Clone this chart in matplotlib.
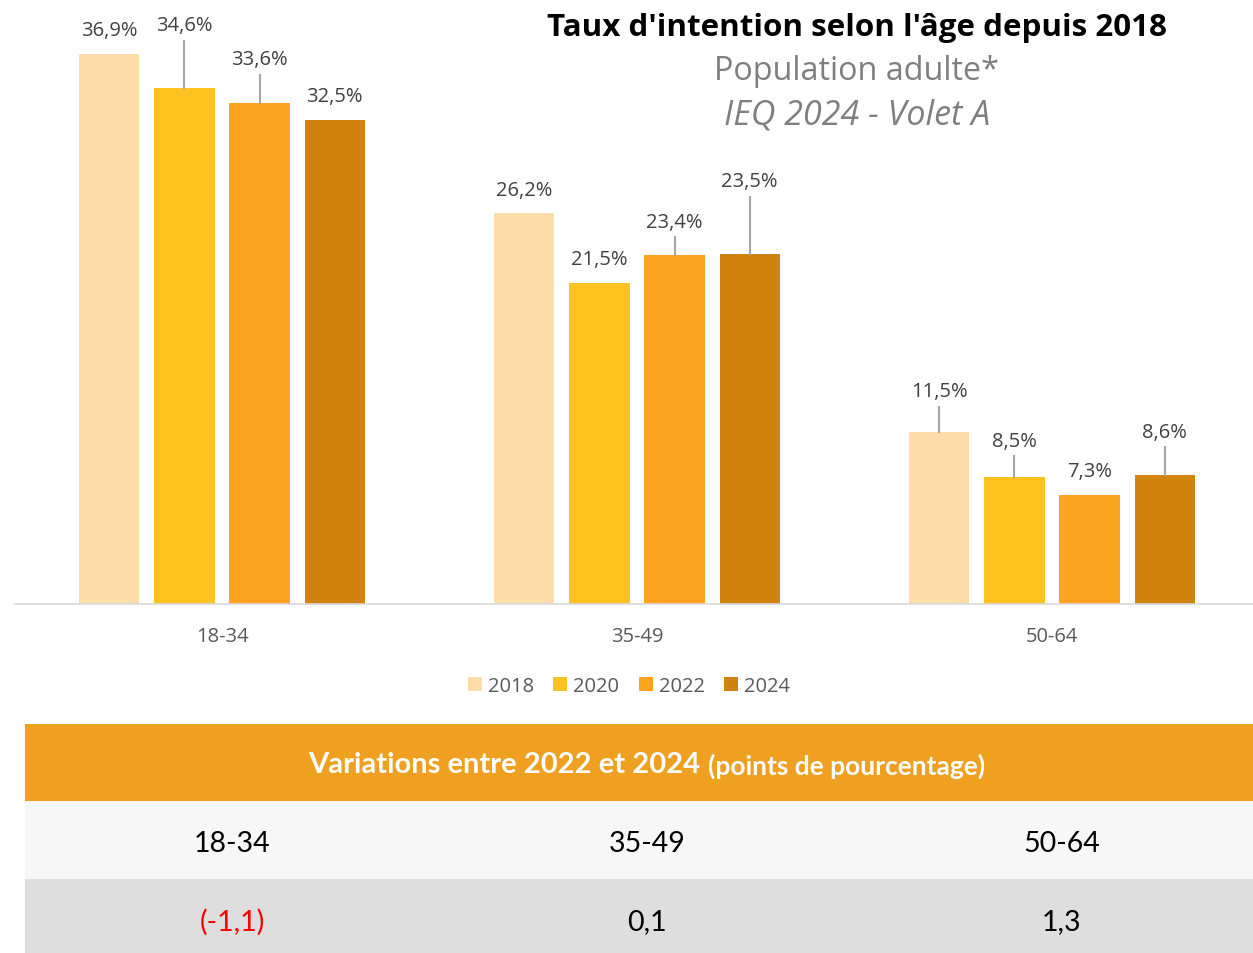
import numpy as np
import matplotlib
matplotlib.use("Agg")
import matplotlib.pyplot as plt
from matplotlib.patches import Rectangle

# Données
groupes = ["18-34", "35-49", "50-64"]
annees = ["2018", "2020", "2022", "2024"]
taux = {
    "2018": [36.9, 26.2, 11.5],
    "2020": [34.6, 21.5, 8.5],
    "2022": [33.6, 23.4, 7.3],
    "2024": [32.5, 23.5, 8.6],
}
# marge d'erreur (partie haute seulement)
erreurs = {
    "2018": [0.0, 0.0, 1.7],
    "2020": [3.2, 0.0, 1.4],
    "2022": [1.9, 1.2, 0.0],
    "2024": [0.0, 3.8, 1.9],
}
couleurs = ["#FDDCAA", "#FFC220", "#FCA321", "#D0840F"]
variations = ["(-1,1)", "0,1", "1,3"]
couleurs_var = ["#FF0000", "#000000", "#000000"]

W, H = 1253, 954
fig = plt.figure(figsize=(W / 100, H / 100), dpi=100)
plt.rcParams["font.family"] = ["Open Sans", "DejaVu Sans"]

def px(x0, y0, x1, y1):
    # boîte en pixels (origine en haut à gauche) -> coordonnées figure
    return [x0 / W, 1 - y1 / H, (x1 - x0) / W, (y1 - y0) / H]

ax = fig.add_axes(px(14.5, 0, 1259.5, 604.5))
x = np.arange(len(groupes))
largeur = 0.145
pas = 0.181
for i, a in enumerate(annees):
    xs = x + (i - 1.5) * pas
    ax.bar(xs, taux[a], width=largeur, color=couleurs[i], label=a, zorder=2)
    for xi, v, e in zip(xs, taux[a], erreurs[a]):
        if e > 0:
            ax.plot([xi, xi], [v, v + e], color="#A6A6A6", lw=1.5, zorder=3)
        off = 4 if e > 0 else 10
        ax.annotate(f"{v:.1f}%".replace(".", ","), (xi, v + e), xytext=(0, off),
                    textcoords="offset points", ha="center", va="bottom",
                    fontsize=14.5, color="#404040")

ax.set_xlim(-0.5, 2.5)
ax.set_ylim(0, 40.6)
ax.set_xticks(x)
ax.set_xticklabels(groupes, fontsize=14.5, color="#595959")
ax.tick_params(axis="x", length=0, pad=16)
ax.set_yticks([])
for s in ["top", "right", "left"]:
    ax.spines[s].set_visible(False)
ax.spines["bottom"].set_color("#D9D9D9")
ax.spines["bottom"].set_linewidth(1.2)
ax.patch.set_alpha(0)

leg = fig.legend(loc="center", bbox_to_anchor=(629 / W, 1 - 687 / H), ncol=4,
                 frameon=False, fontsize=14.5, handlelength=0.7, handleheight=0.7,
                 handletextpad=0.3, columnspacing=0.95)
for t in leg.get_texts():
    t.set_color("#595959")

# Titres
fig.text(857 / W, 1 - 28 / H, "Taux d'intention selon l'âge depuis 2018",
         ha="center", va="center", fontsize=22.6, fontweight="bold", color="black")
fig.text(857 / W, 1 - 72 / H, "Population adulte*", ha="center", va="center",
         fontsize=23.3, color="#7F7F7F")
fig.text(857 / W, 1 - 116 / H, "IEQ 2024 - Volet A", ha="center", va="center",
         fontsize=24.5, style="italic", color="#7F7F7F")

# Tableau des variations
tab = fig.add_axes(px(24.5, 725, 1269.5, 954))
tab.set_xlim(-0.5, 2.5)
tab.set_ylim(0, 229)
tab.axis("off")
tab.add_patch(Rectangle((-0.5, 152), 3, 77, color="#EFA020", lw=0))
tab.add_patch(Rectangle((-0.5, 74), 3, 78, color="#F7F7F7", lw=0))
tab.add_patch(Rectangle((-0.5, 0), 3, 74, color="#DEDEDE", lw=0))
fam = ["Lato", "DejaVu Sans"]
tab.text(1.127, 189, "Variations entre 2022 et 2024", ha="right", va="center",
         fontsize=21, fontweight="bold", color="white", family=fam)
tab.text(1.147, 188, "(points de pourcentage)", ha="left", va="center",
         fontsize=19, fontweight="bold", color="white", family=fam)
for i, g in enumerate(groupes):
    tab.text(i, 110, g, ha="center", va="center", fontsize=20.5, color="black", family=fam)
    tab.text(i, 32, variations[i], ha="center", va="center", fontsize=20.5,
             color=couleurs_var[i], family=fam)

fig.savefig("out.png", dpi=100)
